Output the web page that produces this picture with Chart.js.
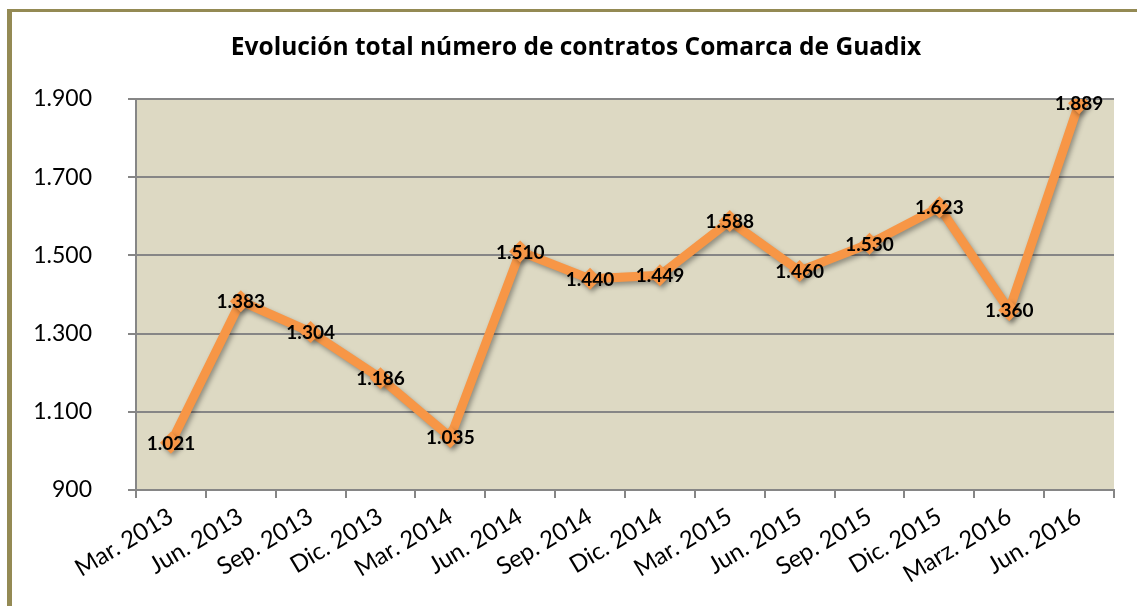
<!DOCTYPE html>
<html lang="es">
<head>
    <meta charset="UTF-8">
    <title>Evolución total número de contratos Comarca de Guadix</title>
    <script src="https://cdn.jsdelivr.net/npm/chart.js"></script>
    <style>
        html, body { margin: 0; padding: 0; background: #fff; overflow: hidden; }
        .frame {
            position: absolute; left: 7px; top: 9px;
            width: 1200px; height: 700px;
            border-left: 5px solid #948A54;
            border-top: 3px solid #948A54;
        }
        .chart-wrapper { position: absolute; left: 0; top: 0; width: 1137px; height: 606px; }
    </style>
</head>
<body>
    <div class="frame"></div>
    <div class="chart-wrapper">
        <canvas id="contratosChart" width="1137" height="606"></canvas>
    </div>

    <script>
        const titulo = 'Evolución total número de contratos Comarca de Guadix';
        const periodos = ['Mar. 2013', 'Jun. 2013', 'Sep. 2013', 'Dic. 2013', 'Mar. 2014', 'Jun. 2014', 'Sep. 2014',
            'Dic. 2014', 'Mar. 2015', 'Jun. 2015', 'Sep. 2015', 'Dic. 2015', 'Marz. 2016', 'Jun. 2016'];
        const contratos = [1021, 1383, 1304, 1186, 1035, 1510, 1440, 1449, 1588, 1460, 1530, 1623, 1360, 1889];
        const ejeY = { min: 900, max: 1900, step: 200 };

        const FONT = 'Lato, "Open Sans", sans-serif';
        const NARANJA = '#F79646';
        const GRIS = '#868686';

        // 1889 -> "1.889"
        function miles(v) {
            return String(Math.round(v)).replace(/\B(?=(\d{3})+(?!\d))/g, '.');
        }

        // title centred over the whole frame (not just the chart box)
        const cabecera = {
            id: 'cabecera',
            afterDraw(chart) {
                const ctx = chart.ctx;
                ctx.save();
                ctx.font = 'bold 24.5px "Open Sans", Lato, sans-serif';
                ctx.fillStyle = '#000';
                ctx.textAlign = 'center';
                ctx.textBaseline = 'middle';
                ctx.fillText(titulo, 576, 48);
                ctx.restore();
            }
        };

        // soft drop shadow under the line and markers
        const sombra = {
            id: 'sombra',
            beforeDatasetDraw(chart) {
                const ctx = chart.ctx;
                ctx.save();
                ctx.shadowColor = 'rgba(0,0,0,0.35)';
                ctx.shadowBlur = 5;
                ctx.shadowOffsetX = 2;
                ctx.shadowOffsetY = 3;
            },
            afterDatasetDraw(chart) {
                chart.ctx.restore();
            }
        };

        // value labels centred on each point
        const etiquetas = {
            id: 'etiquetas',
            afterDatasetsDraw(chart) {
                const ctx = chart.ctx;
                const meta = chart.getDatasetMeta(0);
                ctx.save();
                ctx.font = 'bold 19px ' + FONT;
                ctx.fillStyle = '#000';
                ctx.textAlign = 'center';
                ctx.textBaseline = 'middle';
                meta.data.forEach((pt, i) => {
                    ctx.fillText(miles(contratos[i]), pt.x, pt.y + 1);
                });
                ctx.restore();
            }
        };

        // plot area background
        const fondo = {
            id: 'fondo',
            beforeDraw(chart) {
                const { ctx, chartArea: a } = chart;
                ctx.save();
                ctx.fillStyle = '#DDD9C3';
                ctx.fillRect(a.left, a.top, a.right - a.left, a.bottom - a.top);
                ctx.restore();
            }
        };

        const ctx = document.getElementById('contratosChart').getContext('2d');
        new Chart(ctx, {
            type: 'line',
            data: {
                labels: periodos,
                datasets: [{
                    data: contratos,
                    borderColor: NARANJA,
                    backgroundColor: NARANJA,
                    borderWidth: 9,
                    pointStyle: 'rectRot',
                    pointRadius: 11,
                    pointBorderWidth: 0,
                    tension: 0,
                    fill: false
                }]
            },
            options: {
                responsive: false,
                animation: false,
                layout: { padding: { left: 0, right: 23, top: 99, bottom: 0 } },
                plugins: {
                    legend: { display: false },
                    tooltip: { enabled: false },
                    title: { display: false }
                },
                scales: {
                    x: {
                        offset: true,
                        grid: {
                            display: true,
                            offset: true,
                            drawOnChartArea: false,
                            drawTicks: true,
                            tickLength: 8,
                            color: GRIS,
                            lineWidth: 2
                        },
                        border: { color: GRIS, width: 2 },
                        ticks: {
                            color: '#000',
                            font: { family: FONT, size: 24 },
                            minRotation: 31,
                            maxRotation: 31,
                            autoSkip: false,
                            padding: 4
                        },
                        afterFit(scale) { scale.height = 116; }
                    },
                    y: {
                        min: ejeY.min,
                        max: ejeY.max,
                        grid: {
                            color: GRIS,
                            lineWidth: 2,
                            tickLength: 8
                        },
                        border: { color: GRIS, width: 2 },
                        ticks: {
                            stepSize: ejeY.step,
                            color: '#000',
                            font: { family: FONT, size: 23 },
                            padding: 36,
                            callback: v => miles(v)
                        },
                        afterFit(scale) { scale.width = 136; }
                    }
                }
            },
            plugins: [fondo, sombra, etiquetas, cabecera]
        });
    </script>
</body>
</html>
